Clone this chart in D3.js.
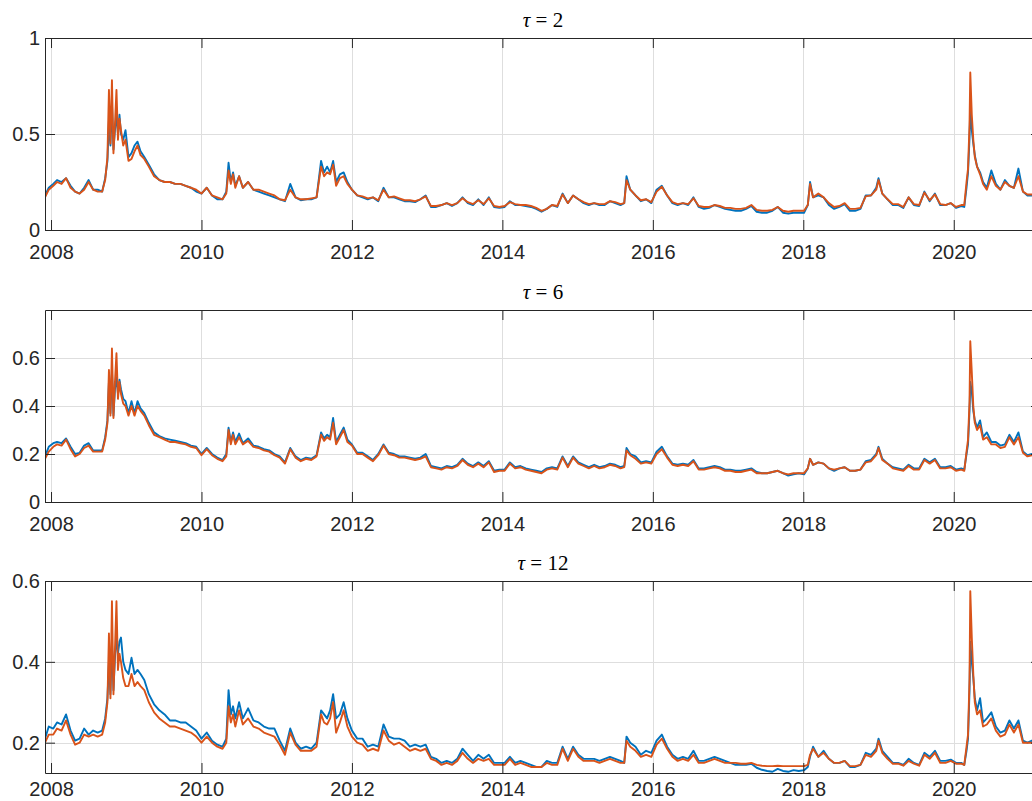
<!DOCTYPE html>
<html>
<head>
<meta charset="utf-8">
<script src="https://cdn.jsdelivr.net/npm/d3@7"></script>
<style>
  body { margin: 0; background: #fff; }
  svg { display: block; }
</style>
</head>
<body>
<div id="chart"></div>
<script>
// sample dates (decimal years)
const dates = [
  2007.92, 2007.97, 2008.03, 2008.08, 2008.14, 2008.20, 2008.26, 2008.32, 2008.38, 2008.44, 2008.50, 2008.56, 2008.62, 2008.68,
  2008.72, 2008.75, 2008.77, 2008.79, 2008.81, 2008.83, 2008.85, 2008.87, 2008.89, 2008.91, 2008.93, 2008.96, 2008.99,
  2009.03, 2009.07, 2009.11, 2009.15, 2009.19, 2009.24, 2009.30, 2009.37, 2009.44, 2009.51, 2009.58, 2009.65, 2009.72, 2009.79, 2009.86, 2009.93,
  2010.00, 2010.07, 2010.14, 2010.21, 2010.28, 2010.33, 2010.36, 2010.39, 2010.42, 2010.45, 2010.50, 2010.55, 2010.62, 2010.69, 2010.76, 2010.83, 2010.90, 2010.97,
  2011.04, 2011.11, 2011.18, 2011.25, 2011.32, 2011.39, 2011.46, 2011.53, 2011.59, 2011.63, 2011.67, 2011.71, 2011.75, 2011.79, 2011.84, 2011.89, 2011.94,
  2012.00, 2012.07, 2012.14, 2012.21, 2012.28, 2012.35, 2012.42, 2012.49, 2012.56, 2012.63, 2012.70, 2012.77, 2012.84, 2012.91, 2012.98,
  2013.05, 2013.12, 2013.19, 2013.26, 2013.33, 2013.40, 2013.47, 2013.54, 2013.61, 2013.68, 2013.75, 2013.82, 2013.89, 2013.96,
  2014.03, 2014.10, 2014.17, 2014.24, 2014.31, 2014.38, 2014.45, 2014.52, 2014.59, 2014.66, 2014.73, 2014.80, 2014.87, 2014.94,
  2015.01, 2015.08, 2015.15, 2015.22, 2015.29, 2015.36, 2015.43, 2015.50, 2015.57, 2015.62, 2015.65, 2015.70, 2015.77, 2015.84, 2015.91, 2015.98,
  2016.05, 2016.12, 2016.19, 2016.26, 2016.33, 2016.40, 2016.47, 2016.54, 2016.61, 2016.68, 2016.75, 2016.82, 2016.89, 2016.96,
  2017.03, 2017.10, 2017.17, 2017.24, 2017.31, 2017.38, 2017.45, 2017.52, 2017.59, 2017.66, 2017.73, 2017.80, 2017.87, 2017.94,
  2018.01, 2018.06, 2018.09, 2018.13, 2018.20, 2018.27, 2018.34, 2018.41, 2018.48, 2018.55, 2018.62, 2018.69, 2018.76, 2018.83, 2018.90, 2018.97,
  2019.00, 2019.05, 2019.12, 2019.19, 2019.26, 2019.33, 2019.40, 2019.47, 2019.54, 2019.61, 2019.68, 2019.75, 2019.82, 2019.89, 2019.96,
  2020.03, 2020.10, 2020.14, 2020.17, 2020.19, 2020.21, 2020.22, 2020.24, 2020.26, 2020.28, 2020.31, 2020.35, 2020.39,
  2020.44, 2020.50, 2020.56, 2020.62, 2020.68, 2020.74, 2020.80, 2020.86, 2020.92, 2020.98, 2021.04, 2021.10, 2021.16
];

// tau = 2
const tau2Blue = [
  .18,.22,.24,.26,.25,.27,.23,.20,.19,.22,.26,.21,.21,.20,
  .27,.36,.57,.44,.66,.42,.52,.60,.50,.60,.50,.47,.52,
  .38,.40,.44,.46,.41,.38,.34,.29,.26,.25,.25,.24,.24,.23,.22,.20,
  .19,.22,.18,.16,.16,.20,.35,.25,.30,.23,.28,.22,.25,.21,.20,.19,.18,.17,
  .16,.15,.24,.17,.155,.16,.16,.17,.36,.30,.33,.30,.36,.25,.29,.30,.25,
  .21,.18,.17,.16,.17,.15,.22,.17,.17,.16,.15,.15,.145,.16,.18,
  .12,.12,.13,.14,.125,.14,.17,.14,.13,.16,.13,.17,.12,.115,
  .12,.15,.13,.13,.125,.12,.11,.095,.11,.13,.12,.19,.14,.18,
  .16,.14,.13,.14,.13,.13,.15,.14,.13,.14,.28,.21,.18,.15,.16,.14,
  .21,.23,.18,.14,.13,.14,.13,.17,.12,.11,.115,.13,.12,.11,
  .105,.10,.10,.11,.125,.095,.09,.09,.10,.12,.09,.085,.09,.09,
  .09,.13,.25,.17,.18,.17,.13,.11,.12,.135,.10,.10,.11,.18,.18,.22,
  .27,.19,.16,.13,.13,.115,.17,.13,.125,.20,.15,.19,.13,.13,.14,
  .115,.125,.12,.22,.30,.48,.65,.52,.45,.39,.33,.30,.25,
  .22,.31,.24,.21,.26,.23,.22,.32,.20,.18,.18,.19,.19
];
const tau2Orange = [
  .17,.21,.23,.25,.24,.27,.22,.20,.19,.21,.25,.21,.20,.20,
  .26,.38,.73,.45,.78,.40,.55,.73,.47,.58,.52,.44,.47,
  .36,.37,.41,.44,.39,.37,.33,.28,.26,.25,.25,.24,.24,.23,.22,.21,
  .19,.22,.18,.17,.16,.19,.31,.24,.29,.22,.28,.22,.25,.21,.21,.20,.19,.18,
  .16,.155,.21,.17,.16,.16,.165,.17,.33,.28,.30,.29,.34,.23,.27,.28,.24,
  .21,.18,.175,.165,.17,.155,.21,.17,.175,.165,.155,.155,.15,.16,.175,
  .125,.125,.13,.14,.13,.14,.165,.145,.135,.155,.135,.165,.125,.12,
  .125,.145,.135,.13,.13,.125,.115,.10,.11,.13,.125,.185,.14,.18,
  .16,.145,.135,.14,.135,.135,.15,.145,.135,.14,.26,.21,.18,.155,.16,.145,
  .20,.225,.18,.145,.135,.14,.135,.165,.125,.12,.12,.13,.125,.115,
  .115,.11,.11,.115,.13,.105,.10,.10,.105,.12,.10,.095,.10,.10,
  .10,.13,.24,.17,.19,.17,.14,.12,.125,.14,.11,.11,.115,.175,.18,.21,
  .26,.19,.16,.135,.135,.12,.17,.135,.13,.195,.155,.185,.135,.13,.14,
  .12,.13,.13,.25,.32,.55,.82,.60,.47,.38,.33,.29,.24,
  .21,.28,.23,.21,.25,.23,.22,.28,.20,.185,.185,.19,.19
];

// tau = 6
const tau6Blue = [
  .19,.23,.245,.25,.245,.265,.23,.20,.205,.235,.245,.215,.215,.215,
  .27,.34,.50,.37,.55,.36,.47,.52,.45,.51,.47,.43,.42,
  .37,.42,.37,.42,.39,.37,.33,.29,.275,.265,.26,.255,.25,.245,.235,.23,
  .20,.225,.20,.185,.175,.20,.31,.25,.29,.25,.285,.245,.265,.235,.23,.22,.215,.20,
  .19,.165,.225,.19,.175,.185,.18,.195,.29,.265,.28,.27,.35,.25,.28,.31,.26,
  .24,.205,.205,.19,.175,.20,.24,.205,.20,.19,.19,.185,.18,.185,.20,
  .15,.145,.14,.15,.145,.155,.18,.16,.15,.165,.15,.17,.13,.135,
  .135,.165,.145,.15,.14,.135,.13,.125,.14,.145,.14,.19,.15,.19,
  .165,.155,.145,.155,.145,.15,.16,.155,.145,.15,.225,.20,.19,.165,.17,.165,
  .21,.23,.19,.16,.155,.16,.155,.175,.14,.14,.145,.15,.145,.135,
  .135,.13,.13,.135,.14,.125,.12,.12,.125,.13,.12,.11,.115,.12,
  .115,.14,.18,.155,.165,.16,.14,.13,.14,.145,.13,.13,.135,.17,.175,.20,
  .23,.18,.16,.145,.14,.135,.155,.14,.14,.18,.165,.18,.145,.145,.15,
  .135,.14,.135,.20,.24,.38,.50,.46,.38,.34,.31,.34,.27,
  .29,.25,.25,.235,.24,.28,.25,.29,.21,.195,.20,.205,.20
];
const tau6Orange = [
  .18,.21,.23,.24,.235,.26,.22,.19,.20,.225,.235,.21,.21,.21,
  .26,.33,.55,.36,.64,.35,.50,.62,.43,.50,.45,.41,.40,
  .36,.40,.36,.40,.38,.36,.32,.28,.27,.26,.25,.25,.245,.24,.23,.225,
  .195,.22,.195,.18,.17,.19,.30,.24,.28,.24,.27,.24,.255,.23,.225,.215,.21,.195,
  .185,.16,.22,.185,.17,.18,.175,.19,.28,.255,.27,.26,.33,.24,.27,.30,.25,
  .235,.20,.20,.185,.17,.195,.235,.20,.195,.185,.185,.18,.175,.18,.19,
  .145,.14,.135,.145,.14,.15,.175,.155,.145,.16,.145,.165,.125,.13,
  .13,.16,.14,.145,.135,.13,.125,.12,.135,.14,.135,.185,.145,.185,
  .16,.15,.14,.15,.14,.145,.155,.15,.14,.145,.215,.195,.18,.16,.165,.16,
  .20,.22,.185,.155,.15,.155,.15,.17,.135,.135,.14,.145,.14,.13,
  .13,.125,.125,.13,.135,.12,.12,.12,.125,.13,.12,.115,.12,.12,
  .12,.14,.18,.155,.165,.16,.14,.135,.14,.145,.13,.13,.135,.165,.17,.195,
  .225,.175,.16,.14,.135,.13,.15,.135,.135,.175,.16,.175,.14,.14,.145,
  .13,.135,.13,.21,.26,.42,.67,.54,.40,.33,.30,.32,.26,
  .27,.24,.24,.225,.23,.27,.24,.27,.205,.19,.195,.20,.20
];

// tau = 12
const tau12Blue = [
  .21,.24,.235,.25,.245,.27,.23,.205,.21,.235,.22,.23,.225,.23,
  .26,.31,.40,.32,.45,.33,.41,.46,.42,.45,.46,.40,.38,
  .37,.41,.37,.38,.37,.355,.32,.295,.28,.27,.255,.255,.25,.25,.24,.23,
  .21,.225,.205,.195,.19,.21,.33,.27,.29,.26,.30,.26,.285,.255,.25,.24,.235,.235,
  .205,.18,.235,.20,.185,.19,.185,.20,.28,.27,.26,.28,.32,.26,.27,.30,.26,
  .23,.21,.21,.19,.195,.19,.245,.215,.21,.21,.205,.19,.195,.19,.195,
  .165,.16,.15,.155,.15,.16,.185,.17,.155,.17,.16,.17,.15,.15,
  .15,.165,.15,.155,.15,.145,.14,.14,.155,.15,.15,.19,.16,.19,
  .17,.16,.16,.16,.155,.16,.165,.16,.155,.15,.215,.20,.19,.17,.18,.175,
  .205,.22,.19,.17,.16,.165,.16,.18,.155,.155,.16,.165,.16,.155,
  .15,.145,.145,.145,.148,.138,.133,.13,.128,.135,.13,.128,.132,.13,
  .132,.14,.165,.19,.165,.18,.16,.15,.15,.155,.14,.14,.145,.175,.17,.185,
  .21,.18,.165,.15,.15,.145,.16,.15,.145,.175,.165,.18,.155,.155,.158,
  .15,.15,.145,.18,.21,.33,.45,.40,.36,.31,.28,.31,.25,
  .26,.275,.24,.225,.23,.255,.235,.255,.205,.20,.205,.21,.205
];
const tau12Orange = [
  .20,.22,.22,.235,.23,.255,.22,.195,.20,.22,.215,.22,.215,.22,
  .25,.30,.47,.31,.55,.32,.43,.55,.38,.42,.40,.36,.34,
  .34,.37,.34,.35,.34,.33,.30,.275,.26,.25,.24,.24,.235,.23,.225,.215,
  .20,.215,.20,.19,.185,.20,.29,.25,.27,.24,.28,.245,.26,.24,.235,.225,.22,.215,
  .195,.17,.225,.195,.18,.18,.18,.19,.27,.25,.245,.26,.30,.225,.25,.28,.24,
  .215,.20,.195,.18,.185,.18,.23,.205,.195,.20,.19,.18,.185,.18,.185,
  .16,.155,.145,.15,.145,.155,.175,.16,.15,.16,.155,.16,.145,.145,
  .145,.16,.145,.15,.145,.14,.14,.14,.15,.145,.145,.185,.155,.185,
  .165,.155,.155,.155,.15,.155,.16,.155,.15,.15,.205,.19,.18,.165,.17,.165,
  .195,.21,.185,.165,.155,.16,.155,.17,.15,.15,.155,.16,.155,.15,
  .15,.15,.148,.148,.15,.145,.143,.142,.142,.143,.142,.142,.142,.142,
  .142,.145,.17,.185,.165,.175,.16,.15,.15,.155,.142,.142,.145,.17,.165,.18,
  .205,.175,.16,.148,.148,.143,.155,.148,.143,.17,.16,.175,.15,.15,.155,
  .148,.148,.145,.19,.22,.36,.575,.46,.37,.30,.27,.28,.24,
  .245,.26,.23,.215,.22,.245,.225,.245,.20,.20,.20,.205,.20
];

const xTicks = [2008, 2010, 2012, 2014, 2016, 2018, 2020];
const xDomain = [2007.92, 2021.16];

const panels = [
  { tau: '2',  blue: tau2Blue,  orange: tau2Orange,  yDomain: [0, 1],       yTicks: [0, 0.5, 1] },
  { tau: '6',  blue: tau6Blue,  orange: tau6Orange,  yDomain: [0, 0.8],     yTicks: [0, 0.2, 0.4, 0.6] },
  { tau: '12', blue: tau12Blue, orange: tau12Orange, yDomain: [0.125, 0.6], yTicks: [0.2, 0.4, 0.6] }
];

// layout
const width = 1032, height = 801;
const left = 45, right = 1041;
const tops = [38, 310, 581];
const panelH = 192;
const xLabelPad = [15, 15, 9];   // bottom panel sits close to the figure edge
const axisColor = '#262626';
const gridColor = '#dedede';
const tickLen = 10;

const svg = d3.select('#chart')
  .append('svg')
  .attr('width', width)
  .attr('height', height)
  .style('background', '#fff');

const x = d3.scaleLinear().domain(xDomain).range([left, right]);

panels.forEach((p, i) => {
  const top = tops[i], bottom = top + panelH;
  const y = d3.scaleLinear().domain(p.yDomain).range([bottom, top]);
  const g = svg.append('g');

  // grid
  g.append('g').selectAll('line.vg')
    .data(xTicks).enter().append('line')
    .attr('x1', d => Math.round(x(d)) + 0.5).attr('x2', d => Math.round(x(d)) + 0.5)
    .attr('y1', top).attr('y2', bottom)
    .attr('stroke', gridColor).attr('stroke-width', 1);
  g.append('g').selectAll('line.hg')
    .data(p.yTicks).enter().append('line')
    .attr('x1', left).attr('x2', right)
    .attr('y1', d => Math.round(y(d)) + 0.5).attr('y2', d => Math.round(y(d)) + 0.5)
    .attr('stroke', gridColor).attr('stroke-width', 1);

  // clip for the lines
  const clipId = 'clip' + i;
  svg.append('clipPath').attr('id', clipId)
    .append('rect').attr('x', left).attr('y', top).attr('width', right - left).attr('height', panelH);

  const line = (vals) => d3.line()
    .x((d, k) => x(dates[k]))
    .y(d => y(d))(vals);

  g.append('path')
    .attr('d', line(p.blue))
    .attr('fill', 'none')
    .attr('stroke', '#0072BD')
    .attr('stroke-width', 1.9)
    .attr('stroke-linejoin', 'round')
    .attr('clip-path', `url(#${clipId})`);
  g.append('path')
    .attr('d', line(p.orange))
    .attr('fill', 'none')
    .attr('stroke', '#D95319')
    .attr('stroke-width', 1.9)
    .attr('stroke-linejoin', 'round')
    .attr('clip-path', `url(#${clipId})`);

  // axes (ticks pointing inward, box on)
  const xb = g.append('g')
    .attr('transform', `translate(0,${bottom})`)
    .call(d3.axisBottom(x).tickValues(xTicks).tickSize(-tickLen).tickSizeOuter(0).tickPadding(xLabelPad[i]).tickFormat(d3.format('d')));
  const xt = g.append('g')
    .attr('transform', `translate(0,${top})`)
    .call(d3.axisTop(x).tickValues(xTicks).tickSize(-tickLen).tickSizeOuter(0).tickFormat(''));
  const yl = g.append('g')
    .attr('transform', `translate(${left},0)`)
    .call(d3.axisLeft(y).tickValues(p.yTicks).tickSize(-tickLen).tickSizeOuter(0).tickPadding(5).tickFormat(d => String(d)));
  const yr = g.append('g')
    .attr('transform', `translate(${right},0)`)
    .call(d3.axisRight(y).tickValues(p.yTicks).tickSize(-tickLen).tickSizeOuter(0).tickFormat(''));

  [xb, xt, yl, yr].forEach(a => {
    a.select('.domain').attr('stroke', axisColor).attr('stroke-width', 1);
    a.selectAll('.tick line').attr('stroke', axisColor).attr('stroke-width', 1);
    a.selectAll('text')
      .attr('fill', axisColor)
      .style('font-family', '"Liberation Sans", Arial, Helvetica, sans-serif')
      .style('font-size', '20px');
  });
  xb.selectAll('text').attr('dy', '0.71em');

  // title
  const t = svg.append('text')
    .attr('x', (left + right) / 2)
    .attr('y', top - 11)
    .attr('text-anchor', 'middle')
    .style('font-family', '"Liberation Serif", "DejaVu Serif", serif')
    .style('font-size', '21px')
    .attr('fill', '#000');
  t.append('tspan').style('font-style', 'italic').text('τ');
  t.append('tspan').text(' = ' + p.tau);
});
</script>
</body>
</html>
